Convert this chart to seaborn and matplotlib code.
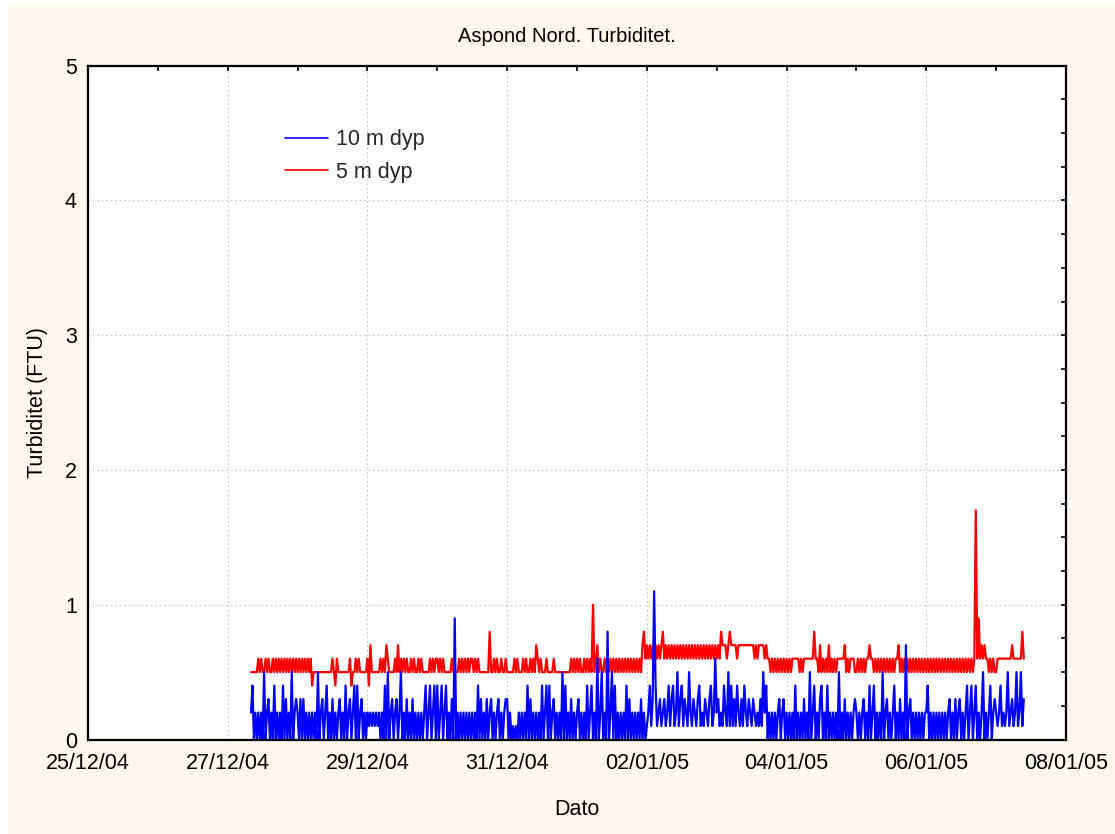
import numpy as np
import pandas as pd
import matplotlib
matplotlib.use("Agg")
import matplotlib.pyplot as plt
import matplotlib.dates as mdates
from matplotlib.ticker import MultipleLocator, FixedLocator
from matplotlib.patches import Rectangle
import seaborn as sns

# ---------------------------------------------------------------------------
# Turbidity logger readings, half-hourly, in tenths of FTU.
# Logging starts 27/12/04 08:00; one list per calendar day.
# ---------------------------------------------------------------------------
START = "2004-12-27 08:00"
STEP = "30min"

# 10 m depth
blue_1227 = [2,4,0,2,0,2,0,2,0,5,0,2,
             3,0,2,0,4,0,2,0,2,0,4,0,
             3,0,2,0,5,0,2,3]
blue_1228 = [2,0,3,0,3,0,2,0,2,0,2,0,
             2,0,5,0,2,3,0,2,4,0,2,0,
             3,0,2,0,2,3,0,2,0,4,0,2,
             3,0,2,4,0,4,0,2,3,0,2,0]
blue_1229 = [2,1,2,1,2,1,2,1,2,0,2,0,
             4,0,5,0,2,3,0,2,3,0,2,5,
             0,2,0,3,0,2,0,3,0,2,0,2,
             0,2,0,2,4,0,2,4,0,2,4,0]
blue_1230 = [4,0,2,4,0,2,4,0,2,0,3,0,
             9,0,2,0,2,0,2,0,2,0,2,0,
             2,0,2,0,4,0,3,0,2,0,3,0,
             2,3,0,2,0,2,3,0,2,0,2,3]
blue_1231 = [3,0,2,0,1,0,1,0,2,0,2,0,
             2,0,4,0,3,0,2,0,2,0,2,0,
             4,0,2,4,0,4,0,2,3,0,2,0,
             2,0,5,0,4,0,2,0,3,0,2,0]
blue_0101 = [2,3,0,2,0,2,0,4,0,2,4,0,
             2,0,6,0,2,5,0,2,0,8,0,2,
             5,0,4,0,2,0,2,0,2,0,4,0,
             3,0,2,0,2,0,2,0,3,0,2,0]
blue_0102 = [1,2,4,1,3,11,4,1,2,3,1,2,
             3,1,2,4,1,3,4,1,2,5,1,3,
             4,1,3,2,1,5,2,1,3,2,1,3,
             4,1,2,1,3,2,1,3,4,1,2,6]
blue_0103 = [2,3,1,2,1,4,2,1,5,1,4,1,
             3,1,4,2,1,3,1,4,2,1,3,2,
             1,3,2,1,2,1,3,1,5,2,4,0,
             2,0,2,0,2,0,2,3,0,2,3,0]
blue_0104 = [2,0,2,0,2,0,4,0,2,0,2,0,
             3,0,2,0,5,0,2,4,0,2,0,3,
             4,0,2,0,4,0,2,0,2,0,2,0,
             5,0,2,0,3,0,2,0,2,0,2,3]
blue_0105 = [2,0,2,0,2,3,0,2,0,4,0,2,
             4,0,2,0,2,0,5,0,2,3,0,2,
             0,2,4,0,2,0,3,0,2,0,7,0,
             2,3,0,2,0,2,0,2,0,2,0,2]
blue_0106 = [2,4,0,2,0,2,0,2,0,2,0,2,
             0,2,0,2,3,0,2,0,3,0,2,3,
             0,2,0,2,4,0,2,4,0,2,4,0,
             2,0,2,5,0,2,0,2,4,0,2,3]
blue_0107 = [2,1,2,4,1,2,1,2,5,1,2,3,
             1,2,5,1,2,5,1,3]

# 5 m depth
red_1227 = [5,5,5,5,5,6,5,6,5,5,6,5,
            6,5,5,6,5,6,5,6,5,6,5,6,
            5,6,5,6,5,6,5,6]
red_1228 = [5,6,5,6,5,6,5,6,5,6,4,5,
            5,5,5,5,5,5,5,5,5,5,5,5,
            6,5,4,6,5,5,5,5,5,5,5,5,
            6,4,5,5,6,5,6,5,5,5,5,5]
red_1229 = [6,4,7,5,5,5,5,5,5,6,5,6,
            5,7,6,5,5,5,5,6,5,7,5,6,
            5,6,5,6,5,5,6,5,6,5,5,6,
            5,6,5,5,5,5,5,6,5,6,5,6]
red_1230 = [6,5,6,5,6,5,5,5,5,5,6,5,
            5,5,5,6,5,6,5,6,5,6,5,6,
            6,5,6,5,6,5,5,5,5,5,5,5,
            8,5,5,6,5,6,5,5,6,5,5,6]
red_1231 = [5,5,5,5,5,6,5,6,5,5,5,6,
            5,6,5,5,6,5,6,5,7,6,5,6,
            5,5,5,6,5,5,5,5,6,5,5,5,
            5,5,5,5,5,5,5,5,6,5,6,5]
red_0101 = [6,5,6,5,5,6,5,6,5,6,5,10,
            5,6,7,5,6,5,5,6,5,6,5,6,
            5,6,5,6,5,6,5,6,5,6,5,6,
            5,6,5,6,5,6,5,6,5,7,8,6]
red_0102 = [7,6,7,6,7,6,7,6,7,6,7,8,
            6,7,6,7,6,7,6,7,6,7,6,7,
            6,7,6,7,6,7,6,7,6,7,6,7,
            6,7,6,7,6,7,6,7,6,7,6,7]
red_0103 = [6,7,6,8,7,7,7,6,7,8,7,7,
            7,7,6,7,7,7,7,7,7,7,7,7,
            7,7,6,7,6,7,7,7,7,6,7,6,
            6,5,6,5,6,5,6,5,6,5,6,5]
red_0104 = [6,5,6,5,6,6,6,6,6,5,6,5,
            6,6,6,6,6,6,6,8,6,6,5,7,
            5,6,5,6,5,7,5,6,5,6,5,6,
            6,6,6,6,7,5,6,5,6,6,6,5]
red_0105 = [5,6,5,6,5,6,5,6,6,7,6,6,
            5,6,5,6,5,6,5,6,5,6,5,6,
            5,6,5,6,6,7,5,6,5,6,5,6,
            5,6,5,6,5,6,5,6,5,6,5,6]
red_0106 = [5,6,5,6,5,6,5,6,5,6,5,6,
            5,6,5,6,5,6,5,6,5,6,5,6,
            5,6,5,6,5,6,5,6,5,6,17,6,
            9,6,7,6,7,6,6,5,6,5,6,5]
red_0107 = [5,6,6,6,6,6,6,6,6,6,6,7,
            6,6,6,6,6,6,8,6]

series_names = ["10 m dyp", "5 m dyp"]
series_colors = ["#0000FF", "#FF0000"]

x_tick_labels = ["25/12/04", "27/12/04", "29/12/04", "31/12/04",
                 "02/01/05", "04/01/05", "06/01/05", "08/01/05"]
y_ticks = [0, 1, 2, 3, 4, 5]

TITLE = "Aspond Nord. Turbiditet."
XLABEL = "Dato"
YLABEL = "Turbiditet (FTU)"


def build_series(days, name):
    vals = np.concatenate([np.asarray(d, dtype=float) for d in days]) / 10.0
    times = pd.date_range(START, periods=len(vals), freq=STEP)
    return pd.DataFrame({"Dato": times, "Turbiditet": vals, "Serie": name})


deep = build_series([blue_1227, blue_1228, blue_1229, blue_1230, blue_1231,
                     blue_0101, blue_0102, blue_0103, blue_0104, blue_0105,
                     blue_0106, blue_0107], series_names[0])
shallow = build_series([red_1227, red_1228, red_1229, red_1230, red_1231,
                        red_0101, red_0102, red_0103, red_0104, red_0105,
                        red_0106, red_0107], series_names[1])

# ---------------------------------------------------------------------------
sns.set_theme(style="white")
plt.rcParams["font.family"] = ["Liberation Sans", "DejaVu Sans"]

W, H = 1115, 834
fig = plt.figure(figsize=(W / 100, H / 100), dpi=100)
fig.patch.set_facecolor("white")
fig.add_artist(Rectangle((8 / W, 0), 1 - 8 / W, (H - 5) / H,
                         transform=fig.transFigure, facecolor="#FDF8EE",
                         edgecolor="none", zorder=-1))

ax_l, ax_r, ax_t, ax_b = 88, 1066, 65.7, 739.5
ax = fig.add_axes([ax_l / W, 1 - ax_b / H, (ax_r - ax_l) / W, (ax_b - ax_t) / H])
ax.set_facecolor("white")

# 5 m first so the 10 m trace sits on top
sns.lineplot(data=shallow, x="Dato", y="Turbiditet", color=series_colors[1],
             linewidth=1.6, estimator=None, label=series_names[1], ax=ax)
sns.lineplot(data=deep, x="Dato", y="Turbiditet", color=series_colors[0],
             linewidth=1.6, estimator=None, label=series_names[0], ax=ax)

tick_pos = mdates.date2num(pd.to_datetime(x_tick_labels, format="%d/%m/%y"))
ax.set_xlim(tick_pos[0], tick_pos[-1])
ax.xaxis.set_major_locator(FixedLocator(tick_pos))
ax.set_xticklabels(x_tick_labels)
ax.xaxis.set_minor_locator(mdates.DayLocator())

ax.set_ylim(y_ticks[0], y_ticks[-1])
ax.set_yticks(y_ticks)
ax.set_yticklabels([str(v) for v in y_ticks])
ax.yaxis.set_minor_locator(MultipleLocator(0.25))

ax.grid(True, which="major", color="#C4C4C4", linestyle=(0, (1.5, 2.5)),
        linewidth=0.8)
ax.set_axisbelow(True)

for s in ax.spines.values():
    s.set_visible(True)
    s.set_color("black")
    s.set_linewidth(1.6)

ax.tick_params(which="both", direction="in", top=True, right=True,
               length=3.5, width=1.2, color="black", labelsize=15.5,
               labelcolor="black")
ax.tick_params(axis="x", which="major", pad=10)
ax.tick_params(axis="y", which="major", pad=8)

ax.set_xlabel(XLABEL, fontsize=15.5, color="black")
ax.set_ylabel(YLABEL, fontsize=15.5, color="black")
ax.xaxis.set_label_coords(0.5, -0.088)
ax.yaxis.set_label_coords(-0.041, 0.5)

handles, labels = ax.get_legend_handles_labels()
order = [labels.index(n) for n in series_names]
leg = ax.legend([handles[i] for i in order], [labels[i] for i in order],
                loc="upper left", bbox_to_anchor=(0.2014, 0.906), frameon=False,
                fontsize=15.5, handlelength=2.0, handletextpad=0.35,
                labelspacing=0.55, borderpad=0, borderaxespad=0)
for line in leg.get_lines():
    line.set_linewidth(1.2)

fig.text(567 / W, 1 - 36 / H, TITLE, ha="center", va="center", fontsize=14.5,
         color="black")

fig.savefig("out.png", dpi=100, facecolor=fig.get_facecolor())
